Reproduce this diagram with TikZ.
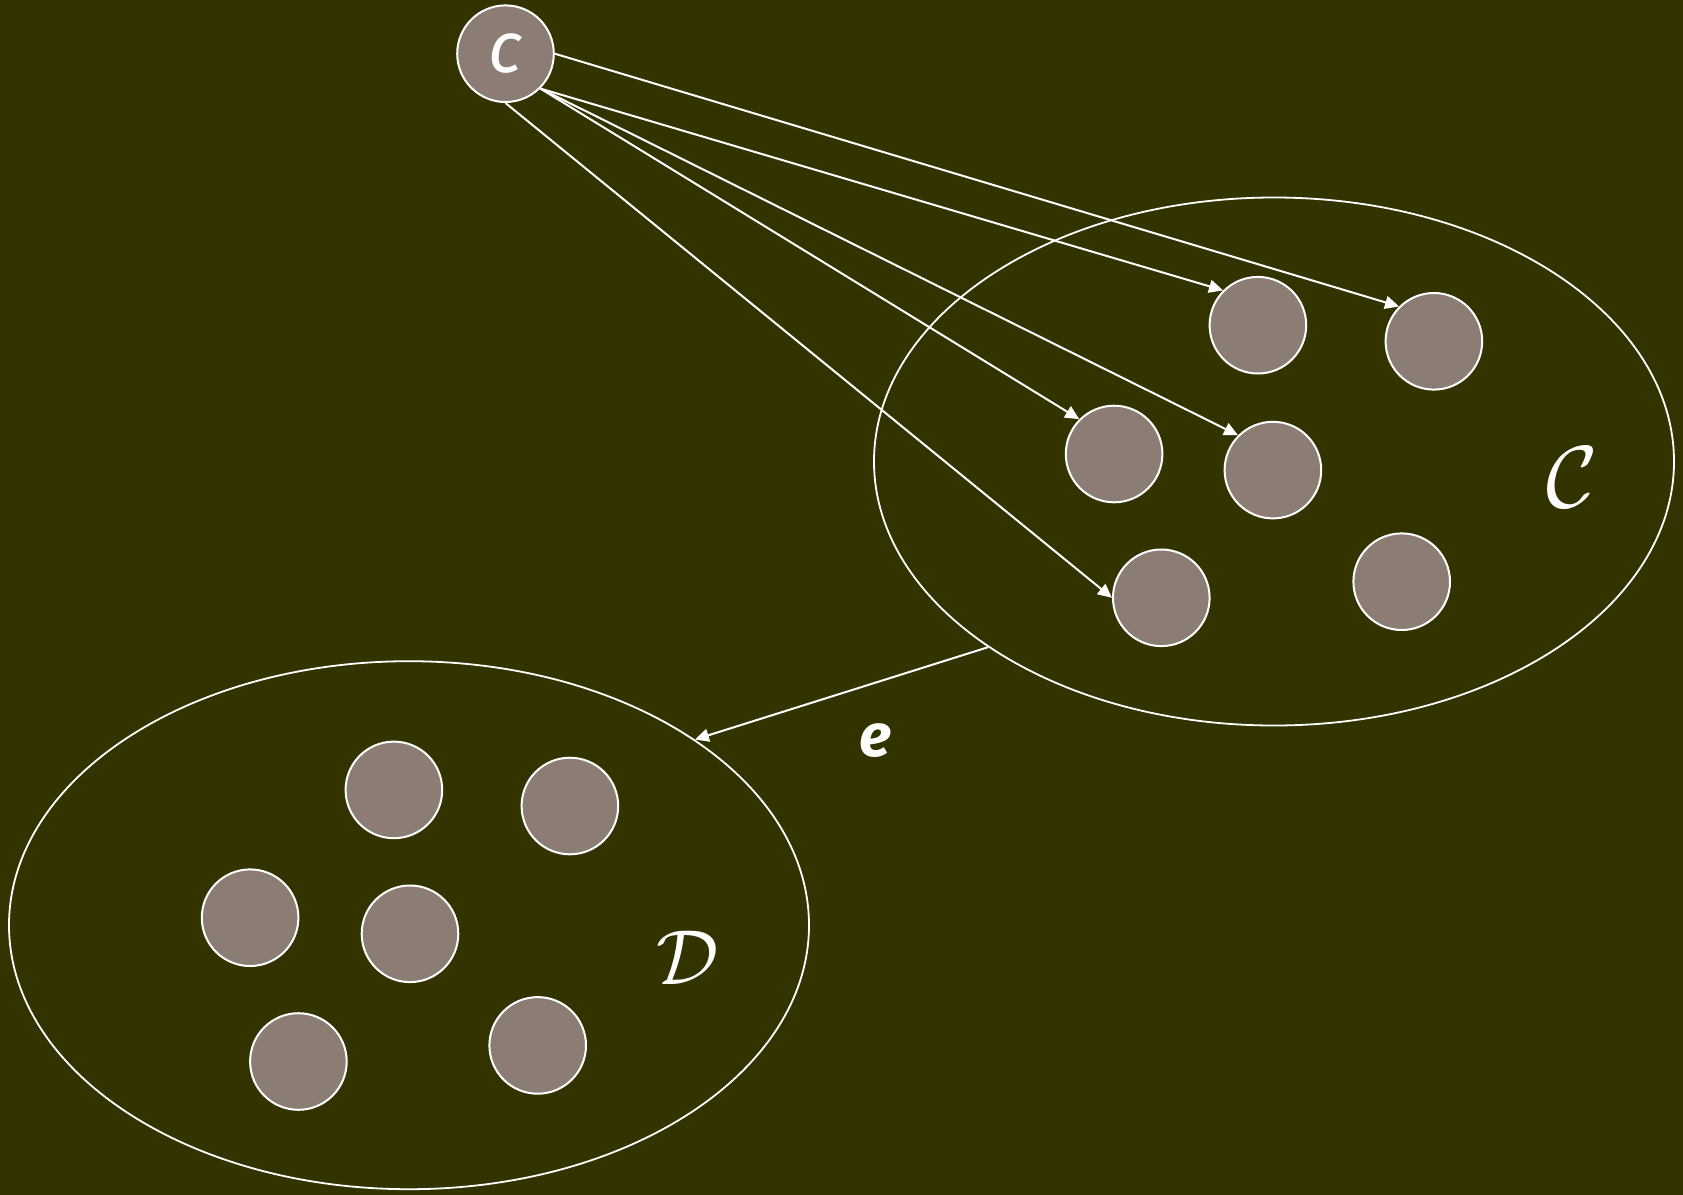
\documentclass[tikz,border=0pt]{standalone}
\usepackage{fontspec}
\newfontfamily\handfont{Fira Sans}
\usetikzlibrary{shapes.geometric,arrows.meta}
\definecolor{bgolive}{RGB}{51,51,0}
\definecolor{dotfill}{RGB}{139,125,116}
\tikzset{
  dot/.style={circle,draw=white,fill=dotfill,line width=1pt,minimum size=48.3pt,inner sep=0pt},
  setell/.style={ellipse,draw=white,line width=0.9pt,minimum width=400pt,minimum height=264pt,inner sep=0pt},
  link/.style={draw=white,line width=1pt,-{Triangle[length=7pt,width=6.5pt]}},
  lbl/.style={text=white,inner sep=0pt}
}
\begin{document}
\begin{tikzpicture}[x=0.5pt,y=-0.5pt]
\fill[bgolive] (0,0) rectangle (1683,1195);
\useasboundingbox (0,0) rectangle (1683,1195);
% sets
\node[setell] (C) at (1274,461.5) {};
\node[setell] (D) at (409,925.2) {};
% source
\node[dot] (c) at (505.5,53.7) {\handfont\itshape\fontsize{36}{40}\selectfont\color{white}c};
% elements of C
\node[dot] (n1) at (1257.9,325.2) {};
\node[dot] (n2) at (1433.9,341.3) {};
\node[dot] (n3) at (1114.1,454.0) {};
\node[dot] (n4) at (1272.9,470.1) {};
\node[dot] (n5) at (1161.3,597.8) {};
\node[dot] (n6) at (1401.7,581.7) {};
% elements of D
\node[dot] (d1) at (393.9,789.9) {};
\node[dot] (d2) at (569.9,806.0) {};
\node[dot] (d3) at (250.1,917.7) {};
\node[dot] (d4) at (410.0,933.8) {};
\node[dot] (d5) at (298.4,1061.5) {};
\node[dot] (d6) at (537.7,1045.4) {};
% labels
\node[lbl,scale=4.4] (lC) at (1572.4,477.6) {$\mathcal{C}$};
\node[lbl,scale=3.9] (lD) at (687.5,957.4) {$\mathcal{D}$};
\node[lbl] (le) at (875.8,740.6) {\handfont\itshape\bfseries\fontsize{30}{34}\selectfont e};
% arrows
\draw[link] (c.east) -- (n2.north west);
\draw[link] (c.south east) -- (n1.north west);
\draw[link] (c.south east) -- (n3.north west);
\draw[link] (c.south east) -- (n4.north west);
\draw[link] (c.south) -- (n5.west);
\draw[link] (C.213) -- (D.33);
\end{tikzpicture}
\end{document}
